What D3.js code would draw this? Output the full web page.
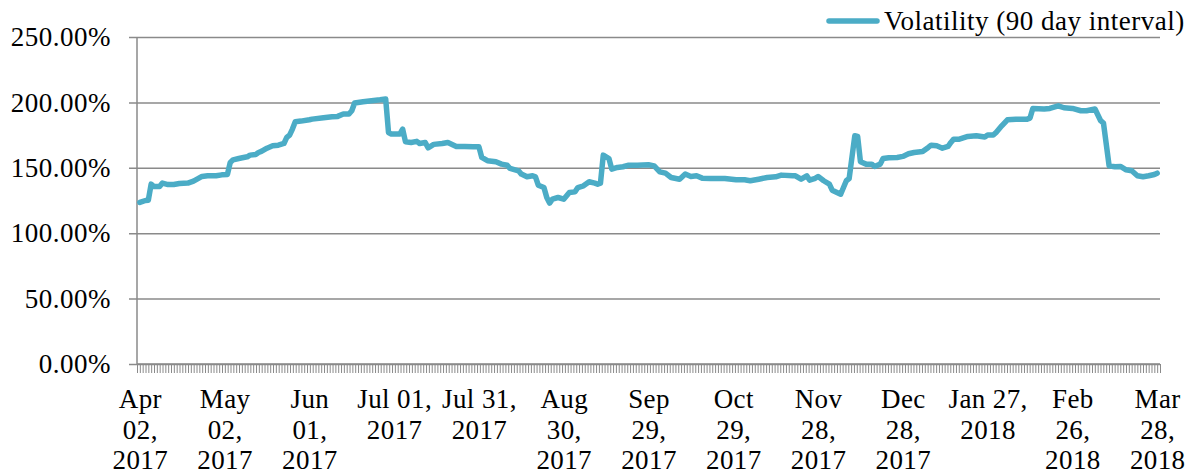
<!DOCTYPE html>
<html>
<head>
<meta charset="utf-8">
<script src="https://cdn.jsdelivr.net/npm/d3@7"></script>
<style>
  body { margin: 0; background: #fff; }
  text { font-family: "Liberation Serif", "Times New Roman", serif; fill: #000; }
</style>
</head>
<body>
<svg id="chart" width="1192" height="474"></svg>
<script>
// Daily categories: Apr 02, 2017 through Mar 28, 2018
const dayCount = 361;

// Readings of the series: day offset from Apr 02, 2017 and volatility (%)
const dayOffsets = [
  0, 2, 3, 4, 5, 7, 8, 10, 12, 14, 17, 19, 22, 24, 27, 29, 31, 32, 33, 35,
  38, 39, 41, 42, 43, 45, 47, 49, 51, 52, 53, 54, 55, 57, 60, 61, 65, 68, 70, 72,
  74, 75, 76, 79, 82, 85, 87, 88, 89, 92, 93, 94, 96, 98, 99, 101, 102, 104, 107, 109,
  112, 115, 118, 120, 121, 123, 126, 128, 130, 131, 134, 135, 137, 139, 140, 141, 143, 144, 145, 146,
  148, 150, 152, 154, 155, 157, 159, 161, 162, 163, 164, 166, 167, 169, 171, 173, 176, 180, 182, 184,
  186, 188, 191, 193, 195, 197, 199, 202, 207, 211, 214, 216, 219, 222, 225, 227, 231, 232, 234, 236,
  237, 239, 240, 242, 244, 245, 248, 249, 250, 251, 253, 254, 255, 257, 259, 260, 262, 263, 265, 268,
  270, 272, 274, 277, 279, 280, 282, 284, 286, 287, 288, 290, 293, 296, 299, 300, 302, 303, 305, 307,
  310, 314, 315, 316, 320, 322, 325, 327, 330, 333, 335, 338, 340, 341, 343, 345, 347, 349, 351, 353,
  355, 357, 359, 360
];
const volatility = [
  123.5, 125.0, 125.2, 137.5, 135.7, 135.7, 138.3, 137.2, 137.2, 138.0, 138.3, 139.8, 143.4, 143.9, 143.9, 144.6, 144.9, 154.1, 156.1, 157.1,
  158.4, 159.7, 160.2, 161.7, 162.5, 165.0, 166.8, 167.3, 168.6, 173.2, 175.0, 179.6, 185.2, 185.7, 186.7, 187.2, 188.3, 189.0, 189.3, 191.1,
  191.1, 193.6, 199.5, 200.5, 201.3, 202.0, 202.6, 177.0, 175.8, 175.8, 179.6, 169.9, 169.4, 170.2, 168.6, 169.4, 165.3, 167.9, 168.6, 169.4,
  166.3, 166.3, 166.1, 166.0, 157.9, 155.4, 154.6, 152.8, 152.0, 149.5, 147.7, 145.2, 143.1, 143.9, 143.1, 136.7, 134.9, 127.3, 123.0, 126.0,
  127.3, 126.0, 131.1, 131.6, 134.9, 136.2, 139.3, 138.3, 137.5, 138.3, 159.7, 157.1, 149.0, 150.3, 150.8, 152.0, 152.0, 152.3, 151.5, 146.9,
  145.9, 142.6, 141.3, 145.2, 143.4, 143.9, 142.1, 141.8, 141.8, 140.8, 140.8, 140.1, 141.3, 142.6, 143.1, 144.4, 143.9, 143.9, 141.3, 143.9,
  140.6, 142.0, 143.4, 140.1, 137.5, 132.9, 129.8, 134.9, 140.1, 141.8, 174.5, 174.0, 154.6, 152.8, 152.8, 151.0, 152.8, 157.1, 157.7, 157.9,
  158.7, 160.7, 161.7, 162.5, 165.6, 167.3, 166.8, 165.0, 166.3, 169.4, 171.9, 171.9, 174.0, 174.5, 173.5, 175.0, 175.0, 177.0, 182.1, 186.7,
  187.2, 187.2, 188.0, 195.4, 194.9, 195.4, 197.4, 195.9, 195.4, 193.6, 193.6, 194.9, 186.0, 184.2, 151.5, 150.8, 151.0, 148.5, 147.7, 143.9,
  143.1, 143.9, 144.9, 145.9
];

// Category axis labels, every 30 days, already wrapped into lines
const labelDays = [0, 30, 60, 90, 120, 150, 180, 210, 240, 270, 300, 330, 360];
const tickLabels = [
  ["Apr", "02,", "2017"], ["May", "02,", "2017"], ["Jun", "01,", "2017"],
  ["Jul 01,", "2017"], ["Jul 31,", "2017"], ["Aug", "30,", "2017"],
  ["Sep", "29,", "2017"], ["Oct", "29,", "2017"], ["Nov", "28,", "2017"],
  ["Dec", "28,", "2017"], ["Jan 27,", "2018"], ["Feb", "26,", "2018"],
  ["Mar", "28,", "2018"]
];
const yTicks = [0, 50, 100, 150, 200, 250];
const seriesName = "Volatility (90 day interval)";

const svg = d3.select("#chart");
const plot = { left: 137, right: 1160, top: 37, bottom: 364 };
const lineColor = "#4BACC6";
const gridColor = "#8a8a8a";

const y = d3.scaleLinear().domain([0, 250]).range([plot.bottom, plot.top]);
const x = d3.scalePoint().domain(d3.range(dayCount)).range([plot.left, plot.right]).padding(1);
const boundary = d3.scaleLinear().domain([0, dayCount]).range([plot.left, plot.right]);

// Horizontal gridlines with outside ticks and the value labels
const yAxis = d3.axisLeft(y)
  .tickValues(yTicks)
  .tickSize(-(plot.right - plot.left) - 8)
  .tickPadding(18)
  .tickFormat(d => d3.format(".2f")(d) + "%");
const gy = svg.append("g").attr("transform", `translate(${plot.right},0)`);
gy.call(yAxis);
gy.select(".domain").remove();
gy.selectAll(".tick line")
  .attr("x1", 0).attr("x2", -(plot.right - plot.left) - 8)
  .attr("stroke", gridColor).attr("stroke-width", 1.5);
gy.selectAll(".tick text")
  .attr("x", -(plot.right - plot.left) - 26)
  .attr("font-size", 27).attr("letter-spacing", 0.5)
  .attr("font-family", "Liberation Serif");

// Vertical axis line
svg.append("line")
  .attr("x1", plot.left).attr("x2", plot.left)
  .attr("y1", plot.top).attr("y2", plot.bottom)
  .attr("stroke", gridColor).attr("stroke-width", 1.5);

// Category boundary ticks along the bottom
const gTicks = svg.append("g").attr("transform", `translate(0,${plot.bottom})`);
gTicks.call(d3.axisBottom(boundary).tickValues(d3.range(dayCount + 1)).tickSize(9).tickFormat(""));
gTicks.select(".domain").remove();
gTicks.selectAll(".tick line").attr("stroke", gridColor).attr("stroke-width", 1);
svg.append("line")
  .attr("x1", plot.left).attr("x2", plot.right)
  .attr("y1", plot.bottom).attr("y2", plot.bottom)
  .attr("stroke", gridColor).attr("stroke-width", 1.5);

// Date labels
const gx = svg.append("g").attr("transform", `translate(0,${plot.bottom})`);
gx.call(d3.axisBottom(x).tickValues(labelDays).tickSize(0).tickFormat(""));
gx.select(".domain").remove();
gx.selectAll(".tick").each(function (d, i) {
  const t = d3.select(this).select("text")
    .attr("y", null).attr("dy", null)
    .attr("font-size", 27).attr("letter-spacing", 0.4)
    .attr("text-anchor", "middle");
  tickLabels[i].forEach((line, k) => {
    t.append("tspan").attr("x", 0).attr("y", 44 + k * 30.5).text(line);
  });
});

// Series line
const line = d3.line()
  .x((d, i) => x(dayOffsets[i]))
  .y(d => y(d));
svg.append("path")
  .datum(volatility)
  .attr("d", line)
  .attr("fill", "none")
  .attr("stroke", lineColor)
  .attr("stroke-width", 5.5)
  .attr("stroke-linejoin", "round")
  .attr("stroke-linecap", "round");

// Legend
const legend = svg.append("g").attr("transform", "translate(829,21)");
legend.append("line")
  .attr("x1", 0).attr("x2", 48).attr("y1", 0).attr("y2", 0)
  .attr("stroke", lineColor).attr("stroke-width", 5.5).attr("stroke-linecap", "round");
legend.append("text")
  .attr("x", 55).attr("y", 9)
  .attr("font-size", 27).attr("letter-spacing", 0.5)
  .text(seriesName);
</script>
</body>
</html>
